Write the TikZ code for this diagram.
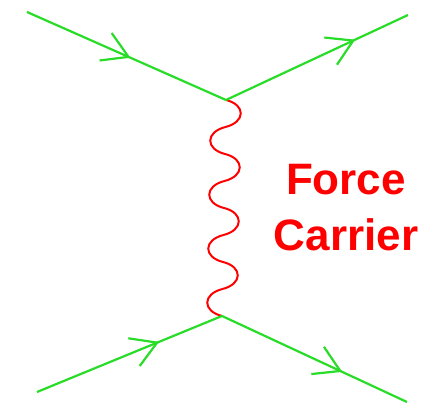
\documentclass[tikz,border=0pt]{standalone}
\usepackage{fontspec}
\setmainfont{Liberation Sans}
\usetikzlibrary{arrows.meta,decorations.markings}
\definecolor{fermgreen}{RGB}{40,220,40}
\definecolor{bosonred}{RGB}{255,0,0}

\begin{document}
\begin{tikzpicture}[
        x=1pt,
        y=1pt,
        fermion/.style={
            draw=fermgreen,
            line width=2.2pt,
            postaction={decorate},
            decoration={markings,
                mark=at position #1 with {\arrow[fermgreen]{Straight Barb[length=25pt,width=30pt,line width=2.2pt]}}}
        },
        boson/.style={
            draw=bosonred,
            line width=2pt
        },
        carrier/.style={
            text=bosonred,
            align=center,
            font=\fontsize{44}{56}\selectfont\bfseries
        }
    ]
        \useasboundingbox (0,0) rectangle (431,403);

        % End points and vertices
        \coordinate (inA) at (27,391);
        \coordinate (vtop) at (226,303);
        \coordinate (outA) at (408,388);

        \coordinate (inB) at (37,11);
        \coordinate (vbot) at (222,87);
        \coordinate (outB) at (407,1);

        % Exchanged particle: eight rounded half waves from vtop down to vbot
        \draw[boson] (vtop)
            \foreach \k in {1,...,4} {
                .. controls +(20,-5) and +(20,5) .. ++(-0.5,-27)
                .. controls +(-20,-5) and +(-20,5) .. ++(-0.5,-27)
            };

        % Upper pair of lines
        \draw[fermion=0.52] (inA) -- (vtop);
        \draw[fermion=0.71] (vtop) -- (outA);

        % Lower pair of lines
        \draw[fermion=0.66] (inB) -- (vbot);
        \draw[fermion=0.65] (vbot) -- (outB);

        \node[carrier] (label) at (346,195) {Force\\Carrier};
    \end{tikzpicture}
\end{document}
